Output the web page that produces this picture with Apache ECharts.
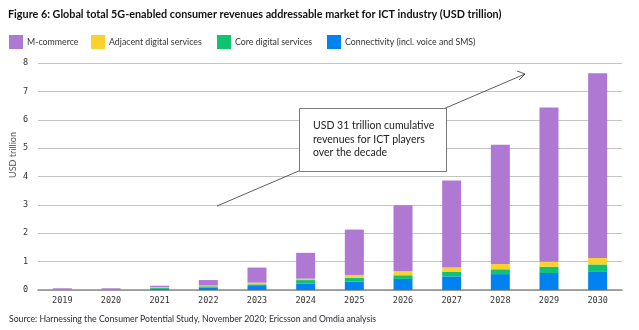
<!DOCTYPE html>
<html>
<head>
<meta charset="utf-8">
<script src="https://cdn.jsdelivr.net/npm/echarts@6/dist/echarts.min.js"></script>
<style>
  html, body { margin: 0; padding: 0; background: #fff; }
  #chart { width: 639px; height: 330px; }
</style>
</head>
<body>
<div id="chart"></div>
<script>
// Years on the category axis
const years = ['2019', '2020', '2021', '2022', '2023', '2024', '2025', '2026', '2027', '2028', '2029', '2030'];

// Stacked segments, USD trillion (bottom to top)
const connectivity = [0, 0, 0.04, 0.09, 0.14, 0.22, 0.30, 0.39, 0.48, 0.56, 0.60, 0.66];
const coreDigital = [0, 0, 0.03, 0.04, 0.06, 0.13, 0.13, 0.13, 0.17, 0.17, 0.22, 0.24];
const adjacentDigital = [0, 0, 0.03, 0.03, 0.06, 0.05, 0.10, 0.14, 0.14, 0.19, 0.18, 0.23];
const mCommerce = [0.06, 0.06, 0.05, 0.19, 0.53, 0.91, 1.60, 2.33, 3.07, 4.20, 5.43, 6.51];

// Value axis ticks
const yTicks = [0, 1, 2, 3, 4, 5, 6, 7, 8];

const colors = {
  mCommerce: '#AF78D2',
  adjacent: '#FAD22D',
  core: '#0FC373',
  connectivity: '#0082F0'
};

const uiFont = 'Lato';
const monoFont = 'DejaVu Sans Mono';

const chart = echarts.init(document.getElementById('chart'), null, { renderer: 'canvas' });

function legendItem(name, left) {
  return {
    data: [name],
    left: left,
    top: 35,
    padding: 0,
    icon: 'rect',
    itemWidth: 14,
    itemHeight: 14,
    itemGap: 0,
    selectedMode: false,
    textStyle: { fontFamily: uiFont, fontSize: 8.8, color: '#333', padding: [0, 0, 0, -1] }
  };
}

function barSeries(name, data, color) {
  return {
    name: name,
    type: 'bar',
    stack: 'total',
    data: data,
    barWidth: 19,
    itemStyle: { color: color },
    emphasis: { disabled: true }
  };
}

const option = {
  animation: false,
  backgroundColor: '#fff',
  title: {
    text: 'Figure 6: Global total 5G-enabled consumer revenues addressable market for ICT industry (USD trillion)',
    left: 8,
    top: 9,
    padding: 0,
    textStyle: { fontFamily: uiFont, fontSize: 10.8, fontWeight: 'bold', color: '#111' }
  },
  legend: [
    legendItem('M-commerce', 9),
    legendItem('Adjacent digital services', 91),
    legendItem('Core digital services', 217),
    legendItem('Connectivity (incl. voice and SMS)', 327)
  ],
  grid: { left: 38, right: 17, top: 63, bottom: 40, containLabel: false },
  xAxis: {
    type: 'category',
    data: years,
    axisLine: { lineStyle: { color: '#8c8c8c', width: 1.5 } },
    axisTick: { show: false },
    axisLabel: { fontFamily: monoFont, fontSize: 8.5, color: '#333', margin: 6 }
  },
  yAxis: {
    type: 'value',
    min: yTicks[0],
    max: yTicks[yTicks.length - 1],
    interval: 1,
    axisLine: { show: false },
    axisTick: { show: false },
    axisLabel: { fontFamily: monoFont, fontSize: 8.5, color: '#333', margin: 10 },
    splitLine: { lineStyle: { color: '#c4c4c4', width: 1 } }
  },
  series: [
    barSeries('Connectivity (incl. voice and SMS)', connectivity, colors.connectivity),
    barSeries('Core digital services', coreDigital, colors.core),
    barSeries('Adjacent digital services', adjacentDigital, colors.adjacent),
    barSeries('M-commerce', mCommerce, colors.mCommerce)
  ],
  graphic: [
    {
      type: 'text',
      x: 13, y: 155,
      rotation: Math.PI / 2,
      style: { text: 'USD trillion', fontFamily: uiFont, fontSize: 9, fill: '#555', align: 'center', verticalAlign: 'middle' }
    },
    // growth arrow behind the callout
    {
      type: 'line',
      z: 10,
      shape: { x1: 217, y1: 206, x2: 525, y2: 74 },
      style: { stroke: '#333', lineWidth: 0.8 }
    },
    {
      type: 'polyline',
      z: 10,
      shape: { points: [[517, 71], [525, 74], [519, 80]] },
      style: { stroke: '#333', lineWidth: 0.8, fill: null }
    },
    // callout box
    {
      type: 'rect',
      z: 11,
      shape: { x: 299.5, y: 108.5, width: 147, height: 63 },
      style: { fill: '#fff', stroke: '#7a7a7a', lineWidth: 1 }
    },
    {
      type: 'text',
      z: 12,
      x: 313, y: 119,
      style: {
        text: 'USD 31 trillion cumulative\nrevenues for ICT players\nover the decade',
        fontFamily: uiFont, fontSize: 10.5, lineHeight: 13.5, fill: '#222'
      }
    },
    {
      type: 'text',
      x: 9, y: 319,
      style: {
        text: 'Source: Harnessing the Consumer Potential Study, November 2020; Ericsson and Omdia analysis',
        fontFamily: uiFont, fontSize: 8.7, fill: '#2b2b3a', verticalAlign: 'middle'
      }
    }
  ]
};

chart.setOption(option);
</script>
</body>
</html>
